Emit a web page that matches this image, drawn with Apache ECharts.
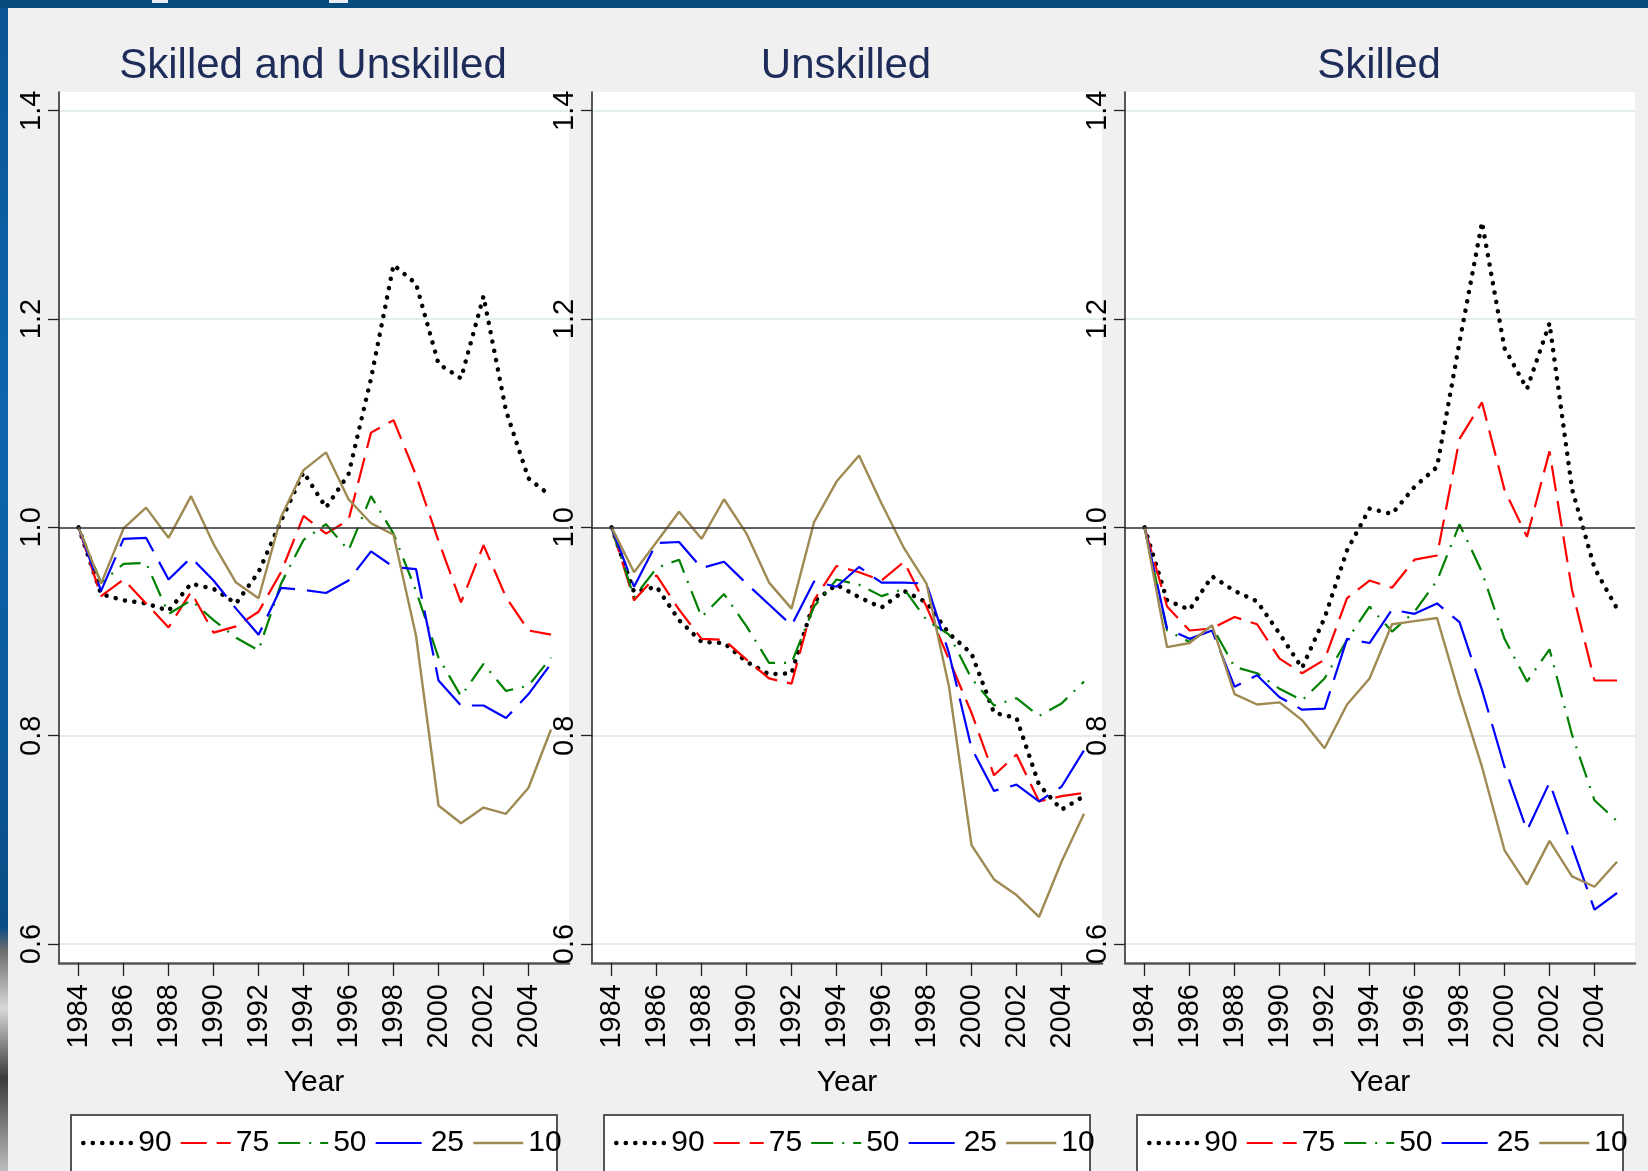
<!DOCTYPE html>
<html>
<head>
<meta charset="utf-8">
<title>Wage ratios by percentile, 1984-2005</title>
<script src="https://cdn.jsdelivr.net/npm/echarts@6/dist/echarts.min.js"></script>
<style>
  html, body { margin: 0; padding: 0; background: #f0f0f0; }
  #chart { position: absolute; left: 0; top: 0; width: 1648px; height: 1171px; }
  .band-top { position: absolute; left: 0; top: 0; width: 1648px; height: 8px; background: #064b7d; z-index: 5; }
  .band-mark { position: absolute; top: 0; height: 3px; background: #e8eef4; z-index: 6; }
  .band-left { position: absolute; left: 0; top: 8px; width: 8px; height: 1163px; z-index: 5;
    background: linear-gradient(#0a5494, #0e66ad 35%, #0b5a9c 60%, #084c85 79%, #6b6b6b 81%, #d8d8d8 86%, #3a3a3a 92%, #bdbdbd 100%); }
</style>
</head>
<body>
<div id="chart"></div>
<div class="band-top"></div>
<div class="band-mark" style="left:152px;width:16px"></div>
<div class="band-mark" style="left:329px;width:19px"></div>
<div class="band-left"></div>
<script>
// x values
const years = [1984, 1985, 1986, 1987, 1988, 1989, 1990, 1991, 1992, 1993, 1994,
               1995, 1996, 1997, 1998, 1999, 2000, 2001, 2002, 2003, 2004, 2005];
const yearTicks = [1984, 1986, 1988, 1990, 1992, 1994, 1996, 1998, 2000, 2002, 2004];
const valueTicks = [0.6, 0.8, 1.0, 1.2, 1.4];

const panelTitles = ['Skilled and Unskilled', 'Unskilled', 'Skilled'];
const pctNames = ['90', '75', '50', '25', '10'];

// Skilled and Unskilled
const bothP90 = [1.0, 0.936, 0.930, 0.927, 0.920, 0.946, 0.941, 0.927, 0.957, 1.006, 1.053,
                 1.019, 1.051, 1.143, 1.252, 1.234, 1.157, 1.143, 1.222, 1.112, 1.047, 1.030];
const bothP75 = [1.0, 0.934, 0.950, 0.927, 0.904, 0.938, 0.899, 0.905, 0.919, 0.957, 1.011,
                 0.994, 1.007, 1.091, 1.103, 1.050, 0.987, 0.928, 0.983, 0.933, 0.901, 0.897];
const bothP50 = [1.0, 0.947, 0.965, 0.966, 0.917, 0.930, 0.911, 0.894, 0.882, 0.946, 0.988,
                 1.003, 0.978, 1.030, 0.994, 0.939, 0.875, 0.838, 0.869, 0.843, 0.848, 0.875];
const bothP25 = [1.0, 0.939, 0.989, 0.990, 0.950, 0.971, 0.949, 0.922, 0.897, 0.942, 0.940,
                 0.937, 0.949, 0.977, 0.962, 0.960, 0.853, 0.829, 0.829, 0.817, 0.840, 0.869];
const bothP10 = [1.0, 0.946, 0.999, 1.019, 0.990, 1.030, 0.984, 0.947, 0.932, 1.010, 1.055,
                 1.072, 1.027, 1.004, 0.993, 0.896, 0.733, 0.716, 0.731, 0.725, 0.750, 0.806];

// Unskilled
const unskP90 = [1.0, 0.938, 0.943, 0.911, 0.890, 0.889, 0.871, 0.859, 0.860, 0.929, 0.945,
                 0.933, 0.923, 0.939, 0.928, 0.898, 0.879, 0.822, 0.817, 0.753, 0.729, 0.742];
const unskP75 = [1.0, 0.930, 0.954, 0.921, 0.893, 0.892, 0.873, 0.855, 0.850, 0.930, 0.963,
                 0.957, 0.949, 0.967, 0.924, 0.873, 0.822, 0.762, 0.782, 0.737, 0.742, 0.745];
const unskP50 = [1.0, 0.933, 0.961, 0.969, 0.914, 0.936, 0.905, 0.870, 0.870, 0.924, 0.950,
                 0.945, 0.934, 0.941, 0.911, 0.897, 0.855, 0.829, 0.836, 0.819, 0.831, 0.852];
const unskP25 = [1.0, 0.943, 0.985, 0.986, 0.961, 0.967, 0.946, 0.926, 0.906, 0.948, 0.943,
                 0.962, 0.947, 0.947, 0.946, 0.879, 0.788, 0.747, 0.753, 0.737, 0.751, 0.786];
const unskP10 = [1.0, 0.957, 0.986, 1.015, 0.989, 1.027, 0.994, 0.947, 0.922, 1.005, 1.044,
                 1.069, 1.023, 0.980, 0.946, 0.847, 0.695, 0.662, 0.647, 0.626, 0.679, 0.725];

// Skilled
const skP90 = [1.0, 0.930, 0.921, 0.953, 0.939, 0.929, 0.898, 0.865, 0.913, 0.978, 1.018,
               1.013, 1.039, 1.058, 1.178, 1.293, 1.172, 1.133, 1.196, 1.037, 0.961, 0.922];
const skP75 = [1.0, 0.924, 0.901, 0.903, 0.914, 0.907, 0.874, 0.860, 0.873, 0.932, 0.949,
               0.942, 0.969, 0.973, 1.085, 1.120, 1.036, 0.991, 1.073, 0.940, 0.853, 0.853];
const skP50 = [1.0, 0.901, 0.890, 0.905, 0.866, 0.860, 0.845, 0.834, 0.855, 0.892, 0.924,
               0.900, 0.919, 0.949, 1.003, 0.957, 0.893, 0.852, 0.883, 0.801, 0.738, 0.718];
const skP25 = [1.0, 0.903, 0.893, 0.901, 0.847, 0.858, 0.837, 0.825, 0.826, 0.893, 0.889,
               0.921, 0.917, 0.927, 0.909, 0.844, 0.770, 0.709, 0.755, 0.694, 0.633, 0.649];
const skP10 = [1.0, 0.885, 0.889, 0.906, 0.840, 0.830, 0.832, 0.815, 0.788, 0.830, 0.855,
               0.907, 0.910, 0.913, 0.839, 0.770, 0.690, 0.657, 0.699, 0.665, 0.655, 0.679];

const panels = [
  [bothP90, bothP75, bothP50, bothP25, bothP10],
  [unskP90, unskP75, unskP50, unskP25, unskP10],
  [skP90, skP75, skP50, skP25, skP10]
];

const font = 'Liberation Sans, Arial, Helvetica, sans-serif';
const lineStyles = [
  { color: '#000000', width: 4.5, type: [0.1, 9.4], cap: 'round' },
  { color: '#ff0000', width: 2.2, type: [26, 10] },
  { color: '#008000', width: 2.2, type: [22, 9, 2, 9] },
  { color: '#0000ff', width: 2.2, type: [46, 12] },
  { color: '#9e8a52', width: 2.4, type: 'solid' }
];

const panelLeft = [59, 592, 1125];
const plotW = 510;
const plotTop = 92;
const plotH = 871;

const chart = echarts.init(document.getElementById('chart'));

const grids = [], xAxes = [], yAxes = [], series = [], legends = [], graphics = [];

panels.forEach((lines, p) => {
  grids.push({
    left: panelLeft[p], top: plotTop, width: plotW, height: plotH,
    show: true, backgroundColor: '#ffffff', borderWidth: 0
  });
  xAxes.push({
    type: 'value', gridIndex: p, min: 1983.13, max: 2005.8,
    name: 'Year', nameLocation: 'middle', nameGap: 105,
    nameTextStyle: { fontSize: 30, color: '#000', fontFamily: font },
    axisLine: { show: true, onZero: false, lineStyle: { color: '#555', width: 2.5 } },
    axisTick: { show: true, length: 13, customValues: yearTicks, lineStyle: { color: '#222', width: 1.3 } },
    axisLabel: { customValues: yearTicks, rotate: 90, margin: 21, fontSize: 29, color: '#000', fontFamily: font,
                 formatter: v => String(v) },
    splitLine: { show: false }
  });
  yAxes.push({
    type: 'value', gridIndex: p, min: 0.5818, max: 1.418,
    axisLine: { show: true, onZero: false, lineStyle: { color: '#222', width: 1.5 } },
    axisTick: { show: true, length: 11, customValues: valueTicks, lineStyle: { color: '#222', width: 1.3 } },
    axisLabel: { customValues: valueTicks, rotate: 90, margin: 13, fontSize: 29, color: '#000', fontFamily: font,
                 formatter: v => v.toFixed(1) },
    splitLine: { show: true, lineStyle: { color: '#e3ecef', width: 2 } }
  });
  lines.forEach((vals, k) => {
    const s = {
      name: pctNames[k], type: 'line', xAxisIndex: p, yAxisIndex: p,
      data: years.map((y, i) => [y, vals[i]]),
      symbol: 'none', silent: true, animation: false,
      itemStyle: { color: lineStyles[k].color },
      lineStyle: lineStyles[k]
    };
    if (k === 0) {
      s.markLine = {
        silent: true, symbol: 'none', label: { show: false }, animation: false,
        lineStyle: { color: '#333', width: 1.6, type: 'solid' },
        data: [{ yAxis: p === 2 ? 0.998 : 1.0 }]
      };
    }
    series.push(s);
  });
  legends.push({
    data: pctNames.map((n, k) => ({
      name: n,
      lineStyle: { width: lineStyles[k].width, type: lineStyles[k].type, cap: lineStyles[k].cap || 'butt' }
    })),
    left: panelLeft[p] + 22, top: 1128, orient: 'horizontal',
    itemWidth: 50, itemHeight: 14, itemGap: 8, padding: 0, selectedMode: false,
    itemStyle: { opacity: 0 },
    textStyle: { fontSize: 30, color: '#000', fontFamily: font }
  });
  graphics.push({
    type: 'rect', z: 0,
    shape: { x: panelLeft[p] + 12, y: 1115, width: 486, height: 120 },
    style: { fill: '#ffffff', stroke: '#555', lineWidth: 2 }
  });
  graphics.push({
    type: 'text', z: 5,
    x: panelLeft[p] + plotW / 2 - 1, y: 66,
    style: { text: panelTitles[p], align: 'center', verticalAlign: 'middle',
             fontSize: 42, fontFamily: font, fill: '#1e2c5a' }
  });
});

chart.setOption({
  backgroundColor: '#f0f0f0',
  animation: false,
  grid: grids,
  xAxis: xAxes,
  yAxis: yAxes,
  legend: legends,
  graphic: graphics,
  series: series
});
</script>
</body>
</html>
